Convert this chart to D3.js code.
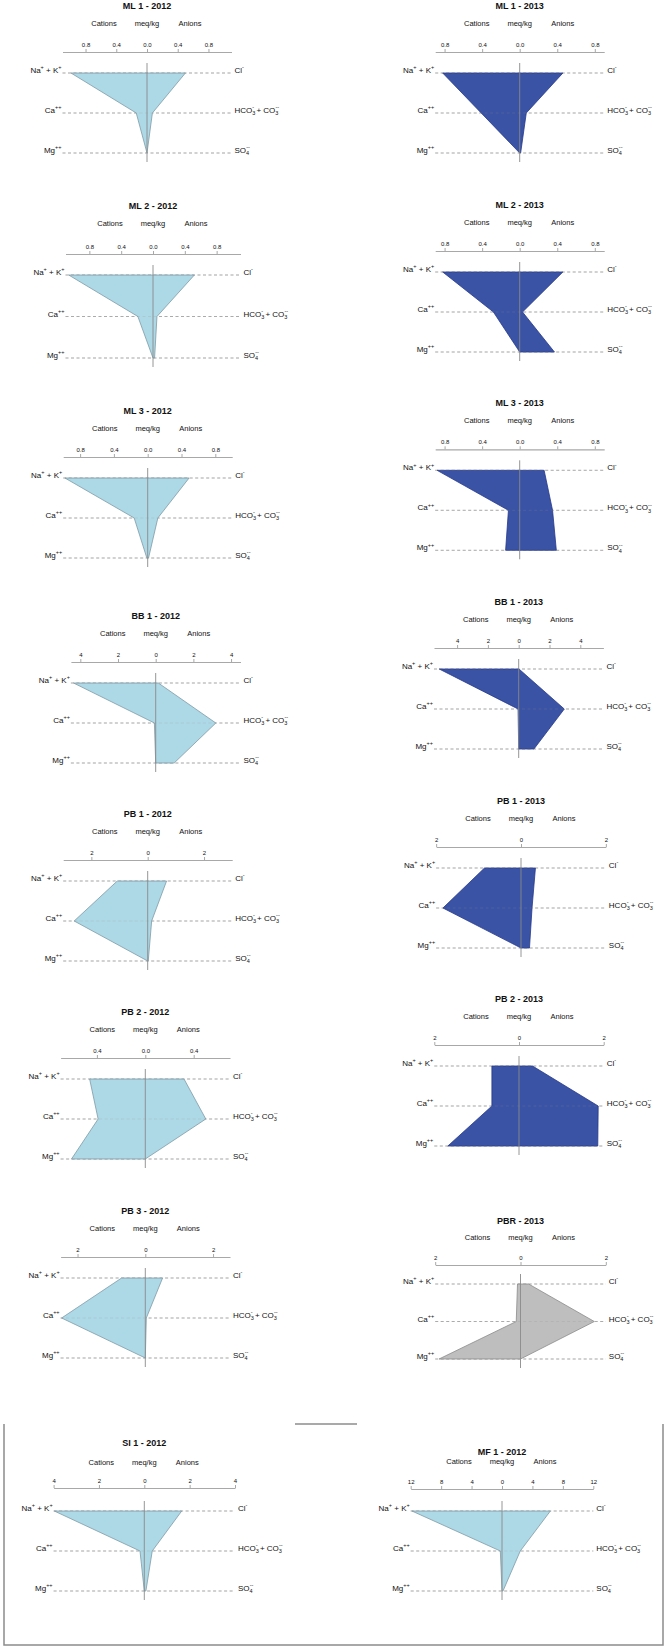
<!DOCTYPE html>
<html>
<head>
<meta charset="utf-8">
<script src="https://cdnjs.cloudflare.com/ajax/libs/d3/7.8.5/d3.min.js"></script>
<style>
    body { margin: 0; background: #fff; }
    text { font-family: "Liberation Sans", Arial, sans-serif; fill: #111; }
</style>
</head>
<body>
<div id="chart"></div>

<script>

    // panels, read row by row (left, right)
    var titles = ["ML 1 - 2012", "ML 1 - 2013", "ML 2 - 2012", "ML 2 - 2013",
                  "ML 3 - 2012", "ML 3 - 2013", "BB 1 - 2012", "BB 1 - 2013",
                  "PB 1 - 2012", "PB 1 - 2013", "PB 2 - 2012", "PB 2 - 2013",
                  "PB 3 - 2012", "PBR - 2013", "SI 1 - 2012", "MF 1 - 2012"];

    // meq/kg : Na+ + K+, Ca++, Mg++
    var cations = [
        [0.99, 0.14, 0.00], [0.82, 0.41, 0.00],
        [1.06, 0.19, 0.00], [0.82, 0.28, 0.00],
        [0.98, 0.16, 0.01], [0.88, 0.12, 0.15],
        [4.36, 0.07, 0.00], [5.16, 0.04, 0.00],
        [1.08, 2.61, 0.00], [0.86, 1.84, 0.00],
        [0.46, 0.39, 0.61], [0.64, 0.64, 1.68],
        [0.70, 2.47, 0.00], [0.07, 0.10, 1.91],
        [3.97, 0.19, 0.00], [11.84, 0.22, 0.00]
    ];

    // meq/kg : Cl-, HCO3- + CO3--, SO4--
    var anions = [
        [0.50, 0.07, 0.00], [0.46, 0.07, 0.01],
        [0.52, 0.05, 0.02], [0.46, 0.03, 0.37],
        [0.49, 0.12, 0.01], [0.26, 0.35, 0.39],
        [0.14, 3.19, 0.98], [0.02, 2.96, 0.99],
        [0.67, 0.14, 0.02], [0.34, 0.26, 0.20],
        [0.32, 0.50, 0.00], [0.32, 1.87, 1.86],
        [0.51, 0.03, 0.00], [0.19, 1.73, 0.00],
        [1.65, 0.35, 0.07], [6.36, 2.40, 0.13]
    ];

    // axis half range and tick labels of each panel
    var axisMax = [1.1, 0.9, 1.1, 0.9, 1.0, 0.9, 4.5, 5.5, 3, 2, 0.7, 2, 2.5, 2, 4, 12];
    var tickSets = [
        [0, 0.4, 0.8], [0, 0.4, 0.8], [0, 0.4, 0.8], [0, 0.4, 0.8],
        [0, 0.4, 0.8], [0, 0.4, 0.8], [0, 2, 4], [0, 2, 4],
        [0, 2], [0, 2], [0, 0.4], [0, 2],
        [0, 2], [0, 2], [0, 2, 4], [0, 4, 8, 12]
    ];
    var groups = ["2012", "2013", "2012", "2013", "2012", "2013", "2012", "2013",
                  "2012", "2013", "2012", "2013", "2012", "PBR", "2012", "2012"];

    var cationLabels = [
        [["Na"], ["+", "sup"], [" + K"], ["+", "sup"]],
        [["Ca"], ["++", "sup"]],
        [["Mg"], ["++", "sup"]]
    ];
    var anionLabels = [
        [["Cl"], ["-", "sup"]],
        [["HCO"], ["3", "sub"], ["-", "sup", -3], [" + CO"], ["3", "sub"], ["--", "sup", -3]],
        [["SO"], ["4", "sub"], ["--", "sup", -3]]
    ];

    // ---- layout (not data) ----
    // cx, axis y, axis half width in px
    var layout = [
        [147, 52, 84.5], [519.7, 52, 84.5],
        [153, 254, 87.5], [519.7, 251, 84.5],
        [147.7, 457, 84.5], [519.7, 449.3, 84.5],
        [155.7, 662, 84.8], [518.7, 648, 84.7],
        [147.7, 860, 84.5], [521, 847, 84.85],
        [145.3, 1058, 84.7], [519, 1045, 84.7],
        [145.3, 1257, 84.7], [520.5, 1265, 85.3],
        [144.3, 1488, 90.7], [502, 1489, 91.3]
    ];
    // row top, row gap, title offset, subtitle offset (from axis)
    var spacing = {
        2: [21, 41.5, -48, -31],
        13: [19, 37.5, -44, -28],
        14: [23, 40, -45, -26],
        15: [22, 40, -37, -28]
    };
    var defaultSpacing = [21, 40, -46, -29];

    var fills = { "2012": "#ADD8E6", "2013": "#3A53A4", "PBR": "#BEBEBE" };
    var strokes = { "2012": "#7F9AA6", "2013": "#26398C", "PBR": "#8C8C8C" };

    var width = 665, height = 1647;

    var svg = d3.select('#chart').append('svg')
        .attr('width', width)
        .attr('height', height);

    function richText(sel, parts) {
        var shift = 0;
        parts.forEach(function(p) {
            var target = p[1] === 'sup' ? -3.6 : (p[1] === 'sub' ? 2.2 : 0);
            var t = sel.append('tspan').text(p[0]).attr('dy', target - shift);
            if (p[1]) t.attr('font-size', 5.5);
            if (p[2]) t.attr('dx', p[2]);
            shift = target;
        });
    }

    titles.forEach(function(title, i) {
        var cx = layout[i][0], ay = layout[i][1], half = layout[i][2];
        var sp = spacing[i] || defaultSpacing;
        var max = axisMax[i];

        var x = d3.scaleLinear().domain([-max, max]).range([cx - half, cx + half]);
        var y = d3.scaleLinear().domain([0, 2]).range([ay + sp[0], ay + sp[0] + 2 * sp[1]]);

        var g = svg.append('g').attr('class', 'panel');

        g.append('text')
            .attr('x', cx).attr('y', ay + sp[2]).attr('dy', '0.35em')
            .attr('text-anchor', 'middle').attr('font-size', 9).attr('font-weight', 'bold')
            .text(title);

        var sub = [["Cations", -43], ["meq/kg", 0], ["Anions", 43]];
        g.selectAll('text.sub').data(sub).enter().append('text')
            .attr('class', 'sub')
            .attr('x', function(d) { return cx + d[1]; })
            .attr('y', ay + sp[3]).attr('dy', '0.35em')
            .attr('text-anchor', 'middle').attr('font-size', 7.5)
            .text(function(d) { return d[0]; });

        // mirrored ticks
        var ticks = tickSets[i];
        var tv = ticks.filter(function(t) { return t > 0; }).map(function(t) { return -t; })
            .concat(ticks).sort(d3.ascending);
        var decimals = ticks[1] < 1;
        var axis = d3.axisTop(x)
            .tickValues(tv)
            .tickSize(3)
            .tickSizeOuter(0)
            .tickPadding(2)
            .tickFormat(function(d) { return decimals ? d3.format('.1f')(Math.abs(d)) : Math.abs(d); });

        var ag = g.append('g')
            .attr('transform', 'translate(0,' + ay + ')')
            .call(axis);
        ag.select('.domain').attr('stroke', '#A8A8A8').attr('stroke-width', 1.2);
        ag.selectAll('.tick line').attr('stroke', '#A8A8A8');
        ag.selectAll('.tick text').attr('font-size', 6).attr('fill', '#111')
            .attr('font-family', '"Liberation Sans", Arial, sans-serif');

        // dashed guide rows
        var rows = [0, 1, 2];
        g.selectAll('line.row').data(rows).enter().append('line')
            .attr('class', 'row')
            .attr('x1', x(-max)).attr('x2', x(max))
            .attr('y1', function(d) { return y(d); })
            .attr('y2', function(d) { return y(d); })
            .attr('stroke', '#A0A0A0').attr('stroke-width', 0.8)
            .attr('stroke-dasharray', '3,2.5');

        // stiff polygon
        var pts = [[-cations[i][0], 0], [-cations[i][1], 1], [-cations[i][2], 2],
                   [anions[i][2], 2], [anions[i][1], 1], [anions[i][0], 0]];
        var line = d3.line()
            .x(function(d) { return x(d[0]); })
            .y(function(d) { return y(d[1]); });
        g.append('path')
            .attr('d', line(pts) + 'Z')
            .attr('fill', fills[groups[i]])
            .attr('stroke', strokes[groups[i]])
            .attr('stroke-width', 0.8);

        // guides faintly visible through the fill
        g.selectAll('line.over').data(rows).enter().append('line')
            .attr('class', 'over')
            .attr('x1', x(-max)).attr('x2', x(max))
            .attr('y1', function(d) { return y(d); })
            .attr('y2', function(d) { return y(d); })
            .attr('stroke', '#909090').attr('stroke-width', 0.6)
            .attr('stroke-opacity', 0.35)
            .attr('stroke-dasharray', '3,2.5');

        g.append('line')
            .attr('x1', x(0)).attr('x2', x(0))
            .attr('y1', y(0) - 10).attr('y2', y(2) + 9)
            .attr('stroke', '#8A8A8A').attr('stroke-width', 0.9);

        // ion labels
        rows.forEach(function(r) {
            var lt = g.append('text')
                .attr('x', x(-max) - 1).attr('y', y(r)).attr('dy', '0.35em')
                .attr('text-anchor', 'end').attr('font-size', 8);
            richText(lt, cationLabels[r]);
            var rt = g.append('text')
                .attr('x', x(max) + 3).attr('y', y(r)).attr('dy', '0.35em')
                .attr('text-anchor', 'start').attr('font-size', 8);
            richText(rt, anionLabels[r]);
        });
    });

    // frame around the last two panels
    var frame = svg.append('g')
        .attr('fill', 'none')
        .attr('stroke', '#8C8C8C')
        .attr('stroke-width', 1.5);
    frame.append('line').attr('x1', 295).attr('x2', 357).attr('y1', 1424).attr('y2', 1424);
    frame.append('path').attr('d', 'M4,1424V1645H663V1424');

</script>
</body>
</html>
